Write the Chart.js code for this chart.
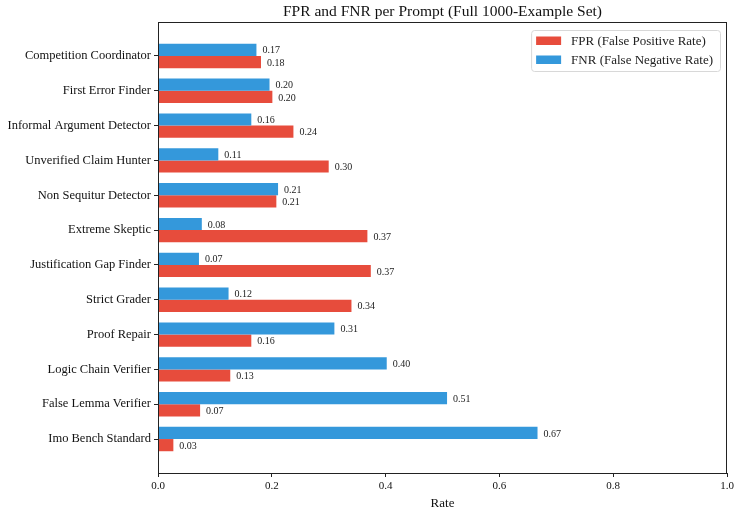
<!DOCTYPE html>
<html>
<head>
<meta charset="utf-8">
<script src="https://cdn.jsdelivr.net/npm/chart.js@4.4.0/dist/chart.umd.min.js"></script>
<style>
  html, body { margin: 0; padding: 0; background: #fff; }
  #wrap { width: 739px; height: 511px; }
</style>
</head>
<body>
<div id="wrap"><canvas id="rateChart" width="739" height="511"></canvas></div>
<script>
// prompts, top to bottom
var prompts = ['Competition Coordinator', 'First Error Finder', 'Informal Argument Detector',
  'Unverified Claim Hunter', 'Non Sequitur Detector', 'Extreme Skeptic', 'Justification Gap Finder',
  'Strict Grader', 'Proof Repair', 'Logic Chain Verifier', 'False Lemma Verifier', 'Imo Bench Standard'];
var fprValues = [0.181, 0.201, 0.238, 0.300, 0.208, 0.368, 0.374, 0.340, 0.164, 0.127, 0.074, 0.027];
var fnrValues = [0.173, 0.196, 0.164, 0.106, 0.211, 0.077, 0.072, 0.124, 0.310, 0.402, 0.508, 0.667];
var rateTicks = [0, 0.2, 0.4, 0.6, 0.8, 1.0];
var chartTitle = 'FPR and FNR per Prompt (Full 1000-Example Set)';

var SERIF = '"Liberation Serif", "DejaVu Serif", serif';
var RED = '#e74c3c', BLUE = '#3498db';

function points(vals) {
  return vals.map(function (v, i) { return { x: v, y: i }; });
}

// value text next to each bar
var valueLabels = {
  id: 'valueLabels',
  afterDatasetsDraw: function (chart) {
    var ctx = chart.ctx;
    ctx.save();
    ctx.font = '10px ' + SERIF;
    ctx.fillStyle = '#222';
    ctx.textBaseline = 'middle';
    ctx.textAlign = 'left';
    chart.data.datasets.forEach(function (ds, di) {
      chart.getDatasetMeta(di).data.forEach(function (bar, i) {
        ctx.fillText(ds.data[i].x.toFixed(2), bar.x + 6, bar.y + 1);
      });
    });
    ctx.restore();
  }
};

// title over the plot, frame, legend box in the upper right
var frameAndLegend = {
  id: 'frameAndLegend',
  afterDraw: function (chart) {
    var ctx = chart.ctx, a = chart.chartArea;
    ctx.save();
    ctx.fillStyle = '#111';
    ctx.font = '15.5px ' + SERIF;
    ctx.textAlign = 'center';
    ctx.textBaseline = 'middle';
    ctx.fillText(chartTitle, (a.left + a.right) / 2, 12);
    ctx.textAlign = 'left';

    ctx.strokeStyle = '#222';
    ctx.lineWidth = 1;
    ctx.strokeRect(a.left + 0.5, a.top + 0.5, a.right - a.left - 1, a.bottom - a.top);

    var items = [['FPR (False Positive Rate)', RED], ['FNR (False Negative Rate)', BLUE]];
    ctx.font = '13px ' + SERIF;
    var tw = Math.max.apply(null, items.map(function (it) { return ctx.measureText(it[0]).width; }));
    var w = 5 + 25 + 10 + tw + 7;
    var right = a.right - 7, top = a.top + 8, h = 41;
    var left = right - w;
    ctx.fillStyle = 'rgba(255,255,255,0.85)';
    ctx.strokeStyle = '#d8d8d8';
    ctx.beginPath();
    ctx.roundRect(left + 0.5, top + 0.5, w, h, 3);
    ctx.fill();
    ctx.stroke();
    items.forEach(function (it, k) {
      var cy = top + 10.5 + k * 19;
      ctx.fillStyle = it[1];
      ctx.fillRect(left + 5, cy - 4, 25, 8.5);
      ctx.fillStyle = '#222';
      ctx.fillText(it[0], left + 40, cy + 1);
    });
    ctx.restore();
  }
};

new Chart(document.getElementById('rateChart').getContext('2d'), {
  type: 'bar',
  data: {
    datasets: [{
      label: 'FNR (False Negative Rate)',
      data: points(fnrValues),
      backgroundColor: BLUE
    }, {
      label: 'FPR (False Positive Rate)',
      data: points(fprValues),
      backgroundColor: RED
    }]
  },
  options: {
    indexAxis: 'y',
    responsive: false,
    animation: false,
    categoryPercentage: 0.7,
    barPercentage: 1.0,
    layout: { padding: { top: 22, right: 12, left: 0, bottom: 0 } },
    plugins: {
      legend: { display: false },
      tooltip: { enabled: false },
      title: { display: false }
    },
    scales: {
      x: {
        type: 'linear',
        min: 0,
        max: 1,
        afterBuildTicks: function (s) { s.ticks = rateTicks.map(function (v) { return { value: v }; }); },
        afterFit: function (s) { s.height = 38; },
        ticks: {
          color: '#111',
          font: { family: SERIF, size: 11 },
          padding: 3,
          callback: function (v) { return Number(v).toFixed(1); }
        },
        grid: { drawOnChartArea: false, tickLength: 4, color: '#222' },
        border: { color: '#222' },
        title: {
          display: true,
          text: 'Rate',
          color: '#111',
          font: { family: SERIF, size: 13 },
          padding: { top: 0, bottom: 0 }
        }
      },
      y: {
        type: 'linear',
        reverse: true,
        offset: false,
        min: -0.975,
        max: 11.975,
        afterBuildTicks: function (s) { s.ticks = prompts.map(function (p, i) { return { value: i }; }); },
        afterFit: function (s) { s.width = 158; },
        ticks: {
          color: '#111',
          font: { family: SERIF, size: 12.5 },
          padding: 3,
          callback: function (v) { return prompts[v]; }
        },
        grid: { offset: false, drawOnChartArea: false, tickLength: 4, color: '#222' },
        border: { color: '#222' }
      }
    }
  },
  plugins: [valueLabels, frameAndLegend]
});
</script>
</body>
</html>
